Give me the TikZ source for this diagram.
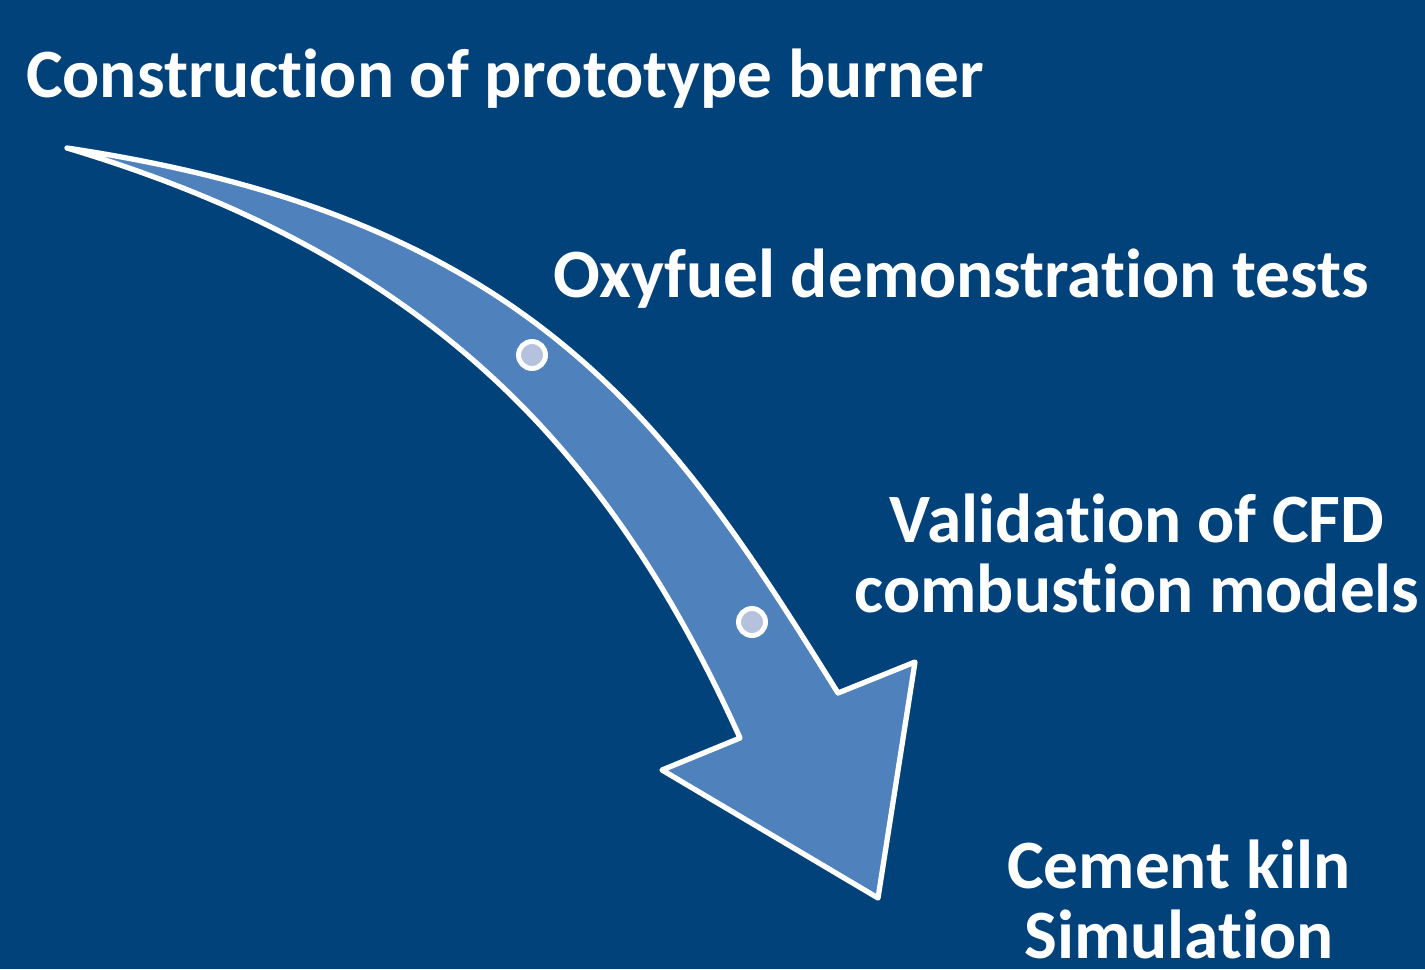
\documentclass[tikz,border=0pt]{standalone}
\usepackage{fontspec}
\setmainfont[Ligatures=NoCommon]{Carlito}
\usepackage{tikz}
\usetikzlibrary{positioning}

\definecolor{bgblue}{RGB}{1,66,122}
\definecolor{arrowblue}{RGB}{79,129,189}
\definecolor{dotblue}{RGB}{180,194,222}

\begin{document}
\begin{tikzpicture}[x=0.01cm, y=-0.01cm,
  every node/.style = {inner sep=0pt, outer sep=0pt},
  step label/.style = {text=white, align=center, anchor=base,
    font=\fontsize{19.7pt}{19.8pt}\selectfont\bfseries},
  arrow body/.style = {draw=white, line width=1.5pt, line join=round, fill=arrowblue},
  mile dot/.style = {shape=circle, draw=white, line width=1.4pt, fill=dotblue, minimum size=0.27cm}]
  \fill[bgblue] (0,0) rectangle (1425,969);
  \useasboundingbox (0,0) rectangle (1425,969);
  % curved arrow
  \draw[arrow body] (67,148) .. controls (537,218) and (674,430) .. (838,693)
    -- (915,662) -- (878,898) -- (662,770) -- (740,738)
    .. controls (605,438) and (417,253) .. (67,148) -- cycle;
  \node[mile dot] (dot1) at (532,355) {};
  \node[mile dot] (dot2) at (752,622) {};
  % labels
  \node[step label, anchor=base west] (burner) at (26,97) {Construction of prototype burner};
  \node[step label, anchor=base west] (oxy) at (553,297) {Oxyfuel demonstration tests};
  \node[step label] (cfd) at (1137,612) {Validation of CFD\\combustion models};
  \node[step label] (kiln) at (1179,958) {Cement kiln\\Simulation};
\end{tikzpicture}
\end{document}
